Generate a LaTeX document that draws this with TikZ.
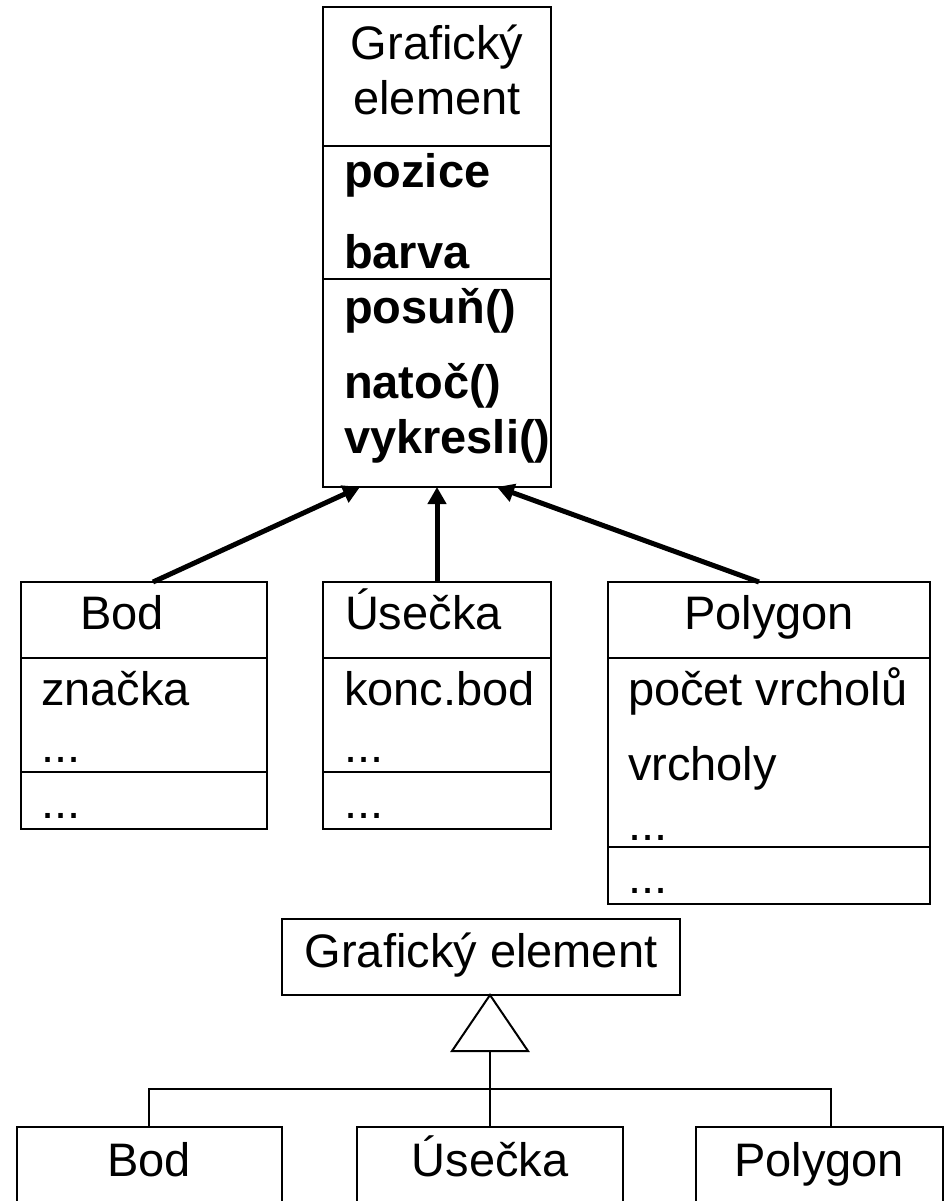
\documentclass[tikz,border=0pt]{standalone}
\usepackage{fontspec}
\setmainfont{Liberation Sans}
\usetikzlibrary{arrows.meta,calc}
\begin{document}
\begin{tikzpicture}[x=1pt,y=-1pt,
  box/.style={draw, line width=2.4pt, inner sep=0pt, outer sep=0pt, anchor=north west},
  tbox/.style={box, line width=2pt},
  lbl/.style={inner sep=0pt, outer sep=0pt, font=\fontsize{47}{56}\selectfont},
  lbllt/.style={lbl, anchor=base west},
  lblc/.style={lbl, anchor=base},
  bld/.style={lbllt, font=\fontsize{47}{56}\selectfont\bfseries},
  divider/.style={line width=2.4pt},
  inherit/.style={line width=5pt, -{Triangle[length=17pt,width=18pt]}},
  tree/.style={line width=2pt}]
\useasboundingbox (0,0) rectangle (944,1201);

% ---------- upper diagram ----------
\node[box, minimum width=228pt, minimum height=480pt] (ge) at (323,7) {};
\draw[divider] ($(ge.north west)+(0,139)$) -- ($(ge.north east)+(0,139)$);
\draw[divider] ($(ge.north west)+(0,272)$) -- ($(ge.north east)+(0,272)$);
\node[lblc] (geA) at (437,60) {Grafický};
\node[lblc] (geB) at (437,115) {element};
\node[bld] (geC) at (344,188) {pozice};
\node[bld] (geD) at (344,268) {barva};
\node[bld] (geE) at (344,323) {posuň()};
\node[bld] (geF) at (344,398) {natoč()};
\node[bld] (geG) at (344,453) {vykresli()};

\node[box, minimum width=246pt, minimum height=247pt] (bod) at (21,582) {};
\node[box, minimum width=228pt, minimum height=247pt] (use) at (323,582) {};
\node[box, minimum width=322pt, minimum height=322pt] (poly) at (608,582) {};

\draw[divider] ($(bod.north west)+(0,76)$) -- ($(bod.north east)+(0,76)$);
\draw[divider] ($(bod.north west)+(0,190)$) -- ($(bod.north east)+(0,190)$);
\draw[divider] ($(use.north west)+(0,76)$) -- ($(use.north east)+(0,76)$);
\draw[divider] ($(use.north west)+(0,190)$) -- ($(use.north east)+(0,190)$);
\draw[divider] ($(poly.north west)+(0,76)$) -- ($(poly.north east)+(0,76)$);
\draw[divider] ($(poly.north west)+(0,265)$) -- ($(poly.north east)+(0,265)$);

\node[lbllt] (bodA) at (80,629) {Bod};
\node[lbllt] (bodB) at (41,705) {značka};
\node[lbllt] (bodC) at (41,762) {...};
\node[lbllt] (bodD) at (41,818) {...};

\node[lbllt] (useA) at (345,629) {Úsečka};
\node[lbllt] (useB) at (344,705) {konc.bod};
\node[lbllt] (useC) at (344,762) {...};
\node[lbllt] (useD) at (344,818) {...};

\node[lblc] (polyA) at (769,629) {Polygon};
\node[lbllt] (polyB) at (628,705) {počet vrcholů};
\node[lbllt] (polyC) at (628,780) {vrcholy};
\node[lbllt] (polyD) at (628,840) {...};
\node[lbllt] (polyE) at (628,893) {...};

\coordinate (tipL) at ($(ge.south west)+(37,0)$);
\coordinate (tipM) at ($(ge.south west)+(114,0)$);
\coordinate (tipR) at ($(ge.south west)+(174,0)$);
\coordinate (srcL) at ($(bod.north west)+(132,0)$);
\coordinate (srcM) at ($(use.north west)+(114,0)$);
\coordinate (srcR) at ($(poly.north west)+(151,0)$);
\draw[inherit] (srcL) -- (tipL);
\draw[inherit] (srcM) -- (tipM);
\draw[inherit] (srcR) -- (tipR);

% ---------- lower diagram ----------
\node[tbox, minimum width=398pt, minimum height=76pt] (ge2) at (282,919) {};
\node[lblc] (ge2t) at (481,967) {Grafický element};

\node[tbox, minimum width=265pt, minimum height=140pt] (bod2) at (17,1127) {};
\node[tbox, minimum width=266pt, minimum height=140pt] (use2) at (357,1127) {};
\node[tbox, minimum width=247pt, minimum height=140pt] (poly2) at (696,1127) {};
\node[lblc] (bod2t) at (149,1176) {Bod};
\node[lblc] (use2t) at (490,1176) {Úsečka};
\node[lblc] (poly2t) at (819,1176) {Polygon};

\coordinate (apex) at ($(ge2.south west)+(208,0)$);
\coordinate (triL) at (452,1051);
\coordinate (triR) at (528,1051);
\coordinate (triB) at (490,1051);
\coordinate (busL) at (149,1089);
\coordinate (busM) at (490,1089);
\coordinate (busR) at (831,1089);
\draw[tree, line join=miter] (apex) -- (triL) -- (triR) -- cycle;
\draw[tree] (triB) -- (use2.north -| triB);
\draw[tree] (bod2.north -| busL) -- (busL) -- (busR) -- (poly2.north -| busR);
\end{tikzpicture}
\end{document}
